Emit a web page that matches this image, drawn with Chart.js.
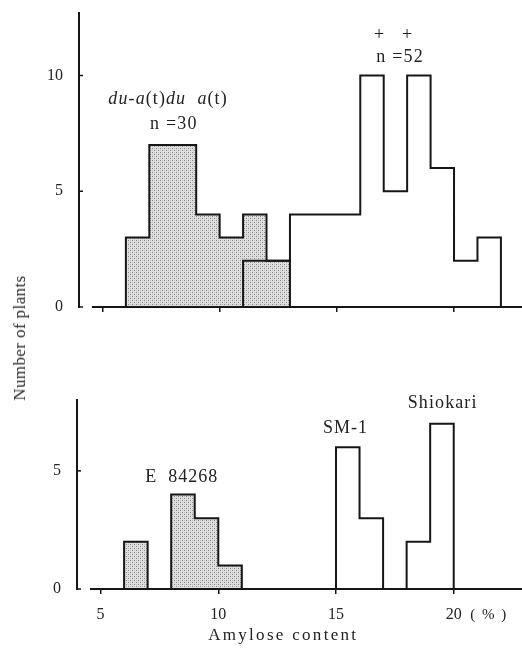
<!DOCTYPE html>
<html>
<head>
<meta charset="utf-8">
<script src="https://cdn.jsdelivr.net/npm/chart.js@4.4.1/dist/chart.umd.min.js"></script>
<style>
  html, body { margin: 0; padding: 0; background: #fff; }
  #page { position: relative; width: 522px; height: 649px; overflow: hidden; }
  #top { position: absolute; left: 0; top: 0; }
  #bottom { position: absolute; left: 0; top: 330px; }
  #ytitle {
    position: absolute; left: 20px; top: 338px;
    transform: translate(-50%, -50%) rotate(-90deg);
    font: normal 17px "Liberation Serif", serif; letter-spacing: 0.4px;
    white-space: nowrap; color: #2a2a2a;
  }
</style>
</head>
<body>
<div id="page">
  <canvas id="top" width="522" height="330"></canvas>
  <canvas id="bottom" width="522" height="319"></canvas>
  <div id="ytitle">Number of plants</div>
</div>
<script>
'use strict';

// amylose content classes (%), one bin per 1 %, given by the first bin start
const duStart = 6;
const duCounts = [3, 7, 7, 4, 3, 4, 2];               // du-a(t)du-a(t), n = 30
const wildStart = 11;
const wildCounts = [2, 2, 4, 4, 4, 10, 5, 10, 6, 2, 3]; // + +, n = 52
const eStart = 6;
const eCounts = [2, 0, 4, 3, 1];                      // E 84268
const sm1Start = 15;
const sm1Counts = [6, 3];                             // SM-1
const shioStart = 18;
const shioCounts = [2, 7];                            // Shiokari

const xTicks = [5, 10, 15, 20];
const topYTicks = [0, 5, 10];
const bottomYTicks = [0, 5];

const FONT = '"Liberation Serif", serif';
const INK = '#161616';

// histogram outline as step points (bin edges)
function histPoints(start, counts) {
    var pts = [{x: start, y: 0}];
    counts.forEach(function (c, i) { pts.push({x: start + i, y: c}) });
    pts.push({x: start + counts.length, y: 0});
    return pts;
}

// dotted grey fill like the printed screen
function stipple() {
    var c = document.createElement('canvas');
    c.width = 4; c.height = 4;
    var g = c.getContext('2d');
    g.fillStyle = '#e0e0e0';
    g.fillRect(0, 0, 4, 4);
    g.fillStyle = '#858585';
    g.fillRect(0, 0, 1, 1);
    g.fillRect(2, 2, 1, 1);
    g.fillStyle = '#bdbdbd';
    g.fillRect(2, 0, 1, 1);
    g.fillRect(0, 2, 1, 1);
    return g.createPattern(c, 'repeat');
}
var pattern = stipple();

function outline(start, counts, filled) {
    return {
        data: histPoints(start, counts),
        stepped: 'before',
        borderColor: INK,
        borderWidth: 2,
        pointRadius: 0,
        fill: filled ? 'origin' : false,
        backgroundColor: filled ? pattern : 'transparent',
    };
}

// axis extras: inward y ticks, baseline not touching the y axis, text notes
var extras = {
    id: 'extras',
    afterDraw: function (chart, args, opts) {
        var ctx = chart.ctx, area = chart.chartArea;
        var xs = chart.scales.x, ys = chart.scales.y;
        ctx.save();
        ctx.strokeStyle = INK;
        ctx.lineWidth = 2;
        ctx.beginPath();
        ctx.moveTo(xs.getPixelForValue(4.55), area.bottom);
        ctx.lineTo(area.right, area.bottom);
        ctx.stroke();
        ctx.lineWidth = 1.5;
        ys.ticks.forEach(function (t) {
            var py = ys.getPixelForValue(t.value);
            ctx.beginPath();
            ctx.moveTo(area.left, py);
            ctx.lineTo(area.left + 4, py);
            ctx.stroke();
        });
        ctx.fillStyle = '#222';
        ctx.textBaseline = 'middle';
        ctx.textAlign = 'left';
        (opts.notes || []).forEach(function (n) {
            ctx.letterSpacing = (n.spacing || 0) + 'px';
            var fonts = n.parts.map(function (p) {
                return (p[1] ? 'italic ' : '') + n.size + 'px ' + FONT;
            });
            var total = 0;
            n.parts.forEach(function (p, i) {
                ctx.font = fonts[i];
                total += ctx.measureText(p[0]).width;
            });
            var px = xs.getPixelForValue(n.x) - total / 2;
            var py = n.y !== undefined ? ys.getPixelForValue(n.y) : area.bottom + n.below;
            n.parts.forEach(function (p, i) {
                ctx.font = fonts[i];
                ctx.fillText(p[0], px, py);
                px += ctx.measureText(p[0]).width;
            });
        });
        ctx.restore();
    }
};

function noPad(s) {
    s.paddingTop = 0; s.paddingBottom = 0;
    s.paddingLeft = 0; s.paddingRight = 0;
}

function xScale(showLabels, height) {
    return {
        type: 'linear',
        min: 4,
        max: 22.9,
        afterBuildTicks: function (s) { s.ticks = xTicks.map(function (v) { return {value: v} }) },
        afterFit: function (s) { s.height = height; noPad(s) },
        border: {display: false},
        grid: {drawOnChartArea: false, drawTicks: true, tickLength: 5, color: INK, lineWidth: 1.5},
        ticks: {display: showLabels, padding: 11, color: '#222', font: {family: FONT, size: 16}}
    };
}

function yScale(max, ticks, width) {
    return {
        min: 0,
        max: max,
        afterBuildTicks: function (s) { s.ticks = ticks.map(function (v) { return {value: v} }) },
        afterFit: function (s) { s.width = width; noPad(s) },
        border: {display: true, color: INK, width: 2},
        grid: {drawOnChartArea: false, drawTicks: false},
        ticks: {padding: 16, color: '#222', font: {family: FONT, size: 16}}
    };
}

Chart.defaults.animation = false;

new Chart(document.getElementById('top'), {
    type: 'line',
    data: {
        datasets: [
            outline(wildStart, wildCounts, false),
            outline(duStart, duCounts, true),
        ]
    },
    options: {
        responsive: false,
        layout: {padding: {top: 13, left: 0, right: 0, bottom: 0}},
        scales: {x: xScale(false, 23), y: yScale(12.7, topYTicks, 79)},
        plugins: {
            legend: {display: false},
            tooltip: {enabled: false},
            extras: {
                notes: [
                    {x: 7.8, y: 8.97, size: 18, spacing: 1.1, parts: [['du', true], ['-', false], ['a', true], ['(t)', false], ['du', true], ['  ', false], ['a', true], ['(t)', false]]},
                    {x: 8.05, y: 7.9, size: 18, spacing: 1.2, parts: [['n =30', false]]},
                    {x: 17.4, y: 11.75, size: 18, spacing: 0, parts: [['+    +', false]]},
                    {x: 17.7, y: 10.78, size: 18, spacing: 1.2, parts: [['n =52', false]]},
                ]
            }
        }
    },
    plugins: [extras]
});

new Chart(document.getElementById('bottom'), {
    type: 'line',
    data: {
        datasets: [
            outline(sm1Start, sm1Counts, false),
            outline(shioStart, shioCounts, false),
            outline(eStart, eCounts, true),
        ]
    },
    options: {
        responsive: false,
        layout: {padding: {top: 70, left: 0, right: 0, bottom: 0}},
        scales: {x: xScale(true, 60), y: yScale(8, bottomYTicks, 77)},
        plugins: {
            legend: {display: false},
            tooltip: {enabled: false},
            extras: {
                notes: [
                    {x: 8.45, y: 4.73, size: 18, spacing: 1, parts: [['E  84268', false]]},
                    {x: 15.4, y: 6.8, size: 18, spacing: 1, parts: [['SM-1', false]]},
                    {x: 19.53, y: 7.86, size: 18, spacing: 1.1, parts: [['Shiokari', false]]},
                    {x: 21.5, below: 26, size: 15, spacing: 1.5, parts: [['( % )', false]]},
                    {x: 12.76, below: 47, size: 17, spacing: 2.3, parts: [['Amylose content', false]]},
                ]
            }
        }
    },
    plugins: [extras]
});
</script>
</body>
</html>
